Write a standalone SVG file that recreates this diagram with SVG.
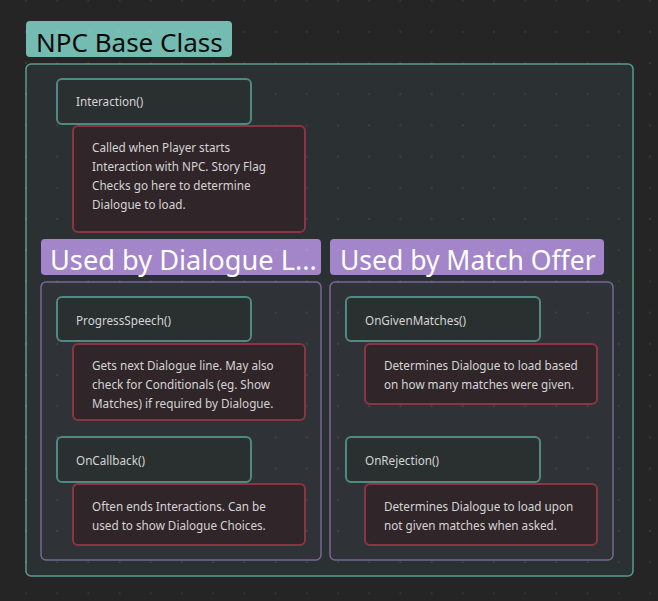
<svg xmlns="http://www.w3.org/2000/svg" width="658" height="601" viewBox="0 0 658 601">
<defs>
<pattern id="dots" patternUnits="userSpaceOnUse" x="10.4" y="-15" width="31.2" height="31.2">
<circle cx="15.6" cy="15.6" r="1" fill="#ffffff" fill-opacity="0.1"/>
</pattern>
<style>
.lbl{font-family:"Noto Sans","Open Sans",sans-serif;font-size:26.5px}
.t{font-family:"Noto Sans","Open Sans",sans-serif;font-size:11.7px;fill:#d4d4d4}
.node{fill:#2a2f30;stroke:#4f8a80;stroke-width:2}
.note{fill:#302629;stroke:#8b3444;stroke-width:2}
.grp{fill:#2f3337;stroke:#7a6598;stroke-width:1.5}
</style>
</defs>
<rect width="658" height="601" fill="#252525"/>
<g id="npc-base-class">
<rect x="26" y="21" width="206" height="36" rx="4" fill="#74bcb1"/>
<text x="36" y="51.5" class="lbl" fill="#0a0a0a" style="font-size:26px">NPC Base Class</text>
<rect x="26" y="64" width="607" height="512" rx="5" fill="#2b3133" stroke="#5a9a8c" stroke-width="1.5"/>
</g>
<g id="group-dialogue">
<rect x="41" y="239" width="280" height="36" rx="4" fill="#a385c9"/>
<text x="50" y="270" class="lbl" fill="#ffffff" style="font-size:27.2px">Used by Dialogue L...</text>
<rect x="41" y="282" width="280" height="278" rx="5" class="grp"/>
</g>
<g id="group-match">
<rect x="330" y="239" width="274" height="36" rx="4" fill="#a385c9"/>
<text x="340" y="270" class="lbl" fill="#ffffff">Used by Match Offer</text>
<rect x="330" y="282" width="283" height="278" rx="5" class="grp"/>
</g>
<rect width="658" height="601" fill="url(#dots)"/>
<g id="interaction">
<rect x="57" y="79" width="194" height="45" rx="5" class="node"/>
<text x="76" y="106" class="t">Interaction()</text>
</g>
<g id="interaction-note">
<rect x="73" y="126" width="232" height="106" rx="5" class="note"/>
<text class="t"><tspan x="92" y="151.5">Called when Player starts</tspan><tspan x="92" y="170.5">Interaction with NPC. Story Flag</tspan><tspan x="92" y="189.5">Checks go here to determine</tspan><tspan x="92" y="208.5">Dialogue to load.</tspan></text>
</g>
<g id="progress-speech">
<rect x="57" y="297" width="194" height="44" rx="5" class="node"/>
<text x="76" y="324.5" class="t">ProgressSpeech()</text>
</g>
<g id="progress-speech-note">
<rect x="73" y="344" width="232" height="76" rx="5" class="note"/>
<text class="t"><tspan x="92" y="369.5">Gets next Dialogue line. May also</tspan><tspan x="92" y="388.5">check for Conditionals (eg. Show</tspan><tspan x="92" y="407.5">Matches) if required by Dialogue.</tspan></text>
</g>
<g id="on-callback">
<rect x="57" y="437" width="194" height="45" rx="5" class="node"/>
<text x="76" y="464.5" class="t">OnCallback()</text>
</g>
<g id="on-callback-note">
<rect x="73" y="484" width="232" height="61" rx="5" class="note"/>
<text class="t"><tspan x="92" y="511">Often ends Interactions. Can be</tspan><tspan x="92" y="529.5">used to show Dialogue Choices.</tspan></text>
</g>
<g id="on-given-matches">
<rect x="346" y="297" width="194" height="44" rx="5" class="node"/>
<text x="365" y="324.5" class="t">OnGivenMatches()</text>
</g>
<g id="on-given-matches-note">
<rect x="365" y="344" width="232" height="60" rx="5" class="note"/>
<text class="t"><tspan x="384" y="370">Determines Dialogue to load based</tspan><tspan x="384" y="389">on how many matches were given.</tspan></text>
</g>
<g id="on-rejection">
<rect x="346" y="437" width="194" height="45" rx="5" class="node"/>
<text x="365" y="464.5" class="t">OnRejection()</text>
</g>
<g id="on-rejection-note">
<rect x="365" y="484" width="232" height="61" rx="5" class="note"/>
<text class="t"><tspan x="384" y="511">Determines Dialogue to load upon</tspan><tspan x="384" y="529.5">not given matches when asked.</tspan></text>
</g>
<g id="connectors"></g>
</svg>
